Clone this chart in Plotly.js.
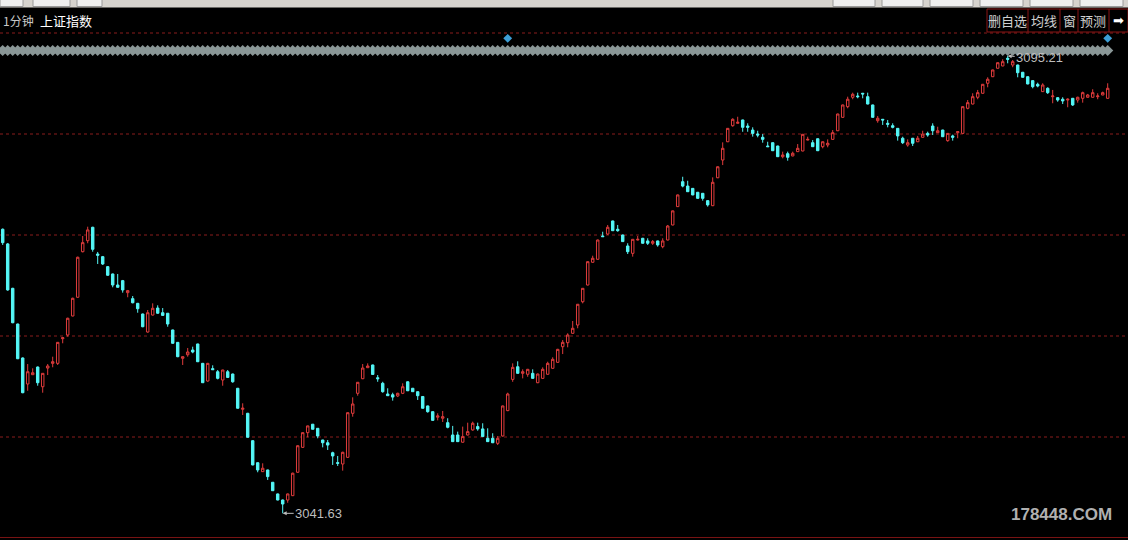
<!DOCTYPE html>
<html>
<head>
<meta charset="utf-8">
<script src="https://cdn.plot.ly/plotly-3.0.1.min.js"></script>
<style>html,body{margin:0;padding:0;background:#000;}#chart{width:1128px;height:540px;}</style>
</head>
<body>
<div id="chart"></div>
<script>
// 1-minute candles, 上证指数
const opens = [3074.91,3073.19,3067.99,3063.81,3059.83,3056.78,3057.87,3058.77,3056.46,3058.65,
3059.20,3059.20,3062.09,3062.52,3064.75,3066.94,3072.28,3073.57,3075.14,3072.01,
3071.70,3070.53,3069.67,3068.38,3068.89,3067.48,3066.78,3066.23,3064.98,3062.87,
3064.86,3065.68,3065.13,3065.07,3063.11,3061.66,3059.79,3060.21,3060.76,3061.47,
3059.20,3057.13,3058.58,3058.22,3057.25,3058.22,3057.95,3056.28,3053.82,3053.35,
3050.14,3047.56,3046.51,3046.71,3045.27,3043.90,3043.19,3043.19,3043.70,3046.44,
3049.36,3051.08,3052.07,3051.59,3050.22,3049.90,3048.73,3047.57,3047.41,3048.19,
3053.35,3055.69,3057.40,3058.69,3059.01,3057.51,3056.86,3055.61,3055.52,3055.38,
3055.69,3057.04,3056.28,3055.88,3055.32,3054.21,3053.54,3052.89,3052.77,3052.25,
3050.81,3050.81,3049.96,3050.81,3051.40,3051.79,3051.52,3050.42,3050.42,3049.83,
3050.69,3053.66,3057.32,3058.80,3058.03,3057.92,3058.03,3056.93,3057.44,3057.92,
3058.62,3059.32,3061.15,3061.62,3062.72,3063.69,3066.42,3068.38,3071.04,3071.39,
3074.12,3074.35,3075.88,3074.91,3074.24,3072.95,3072.09,3073.65,3073.85,3073.54,
3073.27,3073.54,3072.87,3073.65,3075.41,3077.56,3080.48,3079.97,3079.70,3079.24,
3079.12,3078.26,3077.67,3080.94,3083.02,3085.16,3087.04,3087.32,3087.71,3087.00,
3086.53,3086.06,3085.68,3084.66,3085.05,3084.66,3083.41,3083.76,3083.50,3084.00,
3084.08,3085.36,3085.05,3085.51,3084.58,3084.78,3085.44,3086.45,3088.02,3089.27,
3090.37,3090.52,3090.84,3090.44,3089.47,3087.63,3087.79,3087.32,3087.04,3086.73,
3085.57,3084.78,3085.57,3085.16,3085.68,3086.14,3087.00,3086.22,3086.53,3085.29,
3085.84,3086.22,3086.14,3089.08,3089.58,3090.37,3090.84,3092.01,3092.78,3093.77,
3094.04,3094.94,3094.15,3094.15,3093.30,3092.78,3092.32,3091.89,3091.03,3091.42,
3090.44,3090.32,3090.14,3090.05,3090.25,3090.05,3090.25,3090.37,3090.37,3090.44,
3090.64,3090.25];
const highs = [3075.00,3073.30,3068.05,3063.85,3059.90,3059.12,3058.62,3058.83,3058.07,3059.12,
3059.98,3061.70,3062.20,3064.55,3066.90,3071.70,3074.12,3075.21,3075.20,3072.25,
3071.78,3070.60,3069.72,3069.67,3068.97,3067.80,3067.09,3066.28,3065.03,3065.45,
3066.23,3066.00,3065.68,3065.10,3063.15,3061.70,3060.00,3061.00,3061.15,3061.50,
3059.25,3059.25,3058.97,3058.42,3058.45,3058.42,3058.00,3056.32,3054.52,3053.40,
3050.20,3047.60,3047.49,3046.75,3045.30,3043.95,3043.25,3043.95,3046.40,3049.60,
3051.10,3051.90,3052.10,3051.62,3050.25,3050.22,3048.85,3048.35,3048.85,3053.45,
3055.22,3057.00,3059.12,3059.20,3059.05,3057.83,3057.04,3056.28,3055.76,3055.76,
3056.86,3057.10,3056.32,3055.92,3055.36,3054.25,3053.58,3053.35,3053.62,3052.77,
3051.87,3051.20,3051.79,3052.25,3052.37,3052.25,3052.18,3051.59,3051.01,3050.69,
3054.25,3055.76,3059.20,3059.44,3058.50,3058.55,3058.50,3058.00,3058.73,3059.39,
3059.91,3060.90,3061.93,3062.72,3064.16,3066.15,3068.02,3071.15,3071.81,3073.70,
3074.62,3075.41,3075.92,3075.41,3074.28,3073.27,3073.77,3074.12,3073.90,3073.85,
3073.65,3073.58,3073.85,3075.41,3077.10,3078.97,3081.06,3080.59,3079.74,3079.28,
3079.16,3078.30,3080.99,3082.27,3085.09,3086.77,3087.91,3088.09,3087.75,3087.32,
3086.85,3086.45,3086.06,3085.16,3085.09,3084.70,3084.00,3084.00,3084.00,3084.89,
3086.07,3085.75,3085.36,3085.55,3085.20,3085.44,3086.53,3088.45,3089.51,3090.44,
3090.91,3090.91,3090.88,3090.91,3089.51,3088.18,3087.83,3087.71,3087.32,3086.77,
3085.75,3085.44,3085.61,3085.84,3086.45,3086.34,3087.32,3086.92,3086.57,3086.18,
3085.99,3086.38,3089.31,3090.05,3090.84,3091.23,3091.93,3092.71,3093.61,3094.46,
3094.82,3095.21,3094.74,3094.19,3093.34,3092.82,3092.36,3092.08,3092.01,3091.54,
3091.23,3090.40,3090.37,3090.25,3090.29,3090.44,3091.03,3090.76,3091.31,3090.84,
3091.03,3092.01];
const lows = [3073.07,3067.70,3063.90,3059.70,3055.70,3055.99,3057.83,3056.58,3055.76,3057.83,
3058.74,3059.01,3061.55,3062.32,3064.70,3066.90,3072.20,3073.27,3072.28,3070.84,
3070.72,3069.45,3068.11,3068.05,3067.48,3066.94,3066.23,3065.13,3063.43,3062.80,
3064.80,3065.00,3064.75,3063.49,3061.50,3059.92,3059.01,3059.98,3060.38,3059.35,
3056.90,3057.05,3058.46,3057.32,3056.58,3057.48,3056.93,3053.90,3053.15,3050.50,
3047.25,3046.44,3046.47,3045.54,3044.25,3043.15,3041.63,3042.87,3043.65,3046.40,
3049.30,3050.54,3051.45,3050.42,3049.36,3049.05,3047.30,3047.18,3046.63,3048.15,
3052.95,3055.41,3057.35,3058.65,3057.85,3057.04,3055.76,3055.38,3054.83,3055.25,
3055.60,3055.95,3055.85,3054.91,3053.90,3053.42,3052.48,3052.52,3052.33,3051.59,
3049.98,3049.98,3049.92,3050.75,3051.31,3051.31,3050.58,3049.98,3049.86,3049.63,
3050.62,3053.60,3057.04,3057.98,3057.44,3057.63,3057.40,3056.88,3057.40,3057.88,
3058.58,3059.28,3060.29,3061.08,3062.68,3063.31,3066.23,3068.33,3071.00,3071.35,
3074.04,3074.24,3074.70,3074.62,3073.42,3072.01,3071.70,3073.60,3073.22,3073.07,
3073.07,3072.87,3072.68,3073.60,3075.37,3077.52,3079.82,3079.27,3078.89,3078.49,
3078.26,3077.56,3077.62,3080.90,3082.43,3085.12,3086.92,3087.28,3086.33,3086.33,
3085.76,3085.68,3085.05,3084.54,3084.07,3083.37,3083.22,3082.94,3083.45,3083.96,
3084.04,3085.32,3084.54,3084.07,3084.39,3084.51,3085.40,3086.41,3087.98,3089.08,
3090.14,3090.25,3090.25,3089.54,3087.98,3087.39,3087.13,3086.85,3086.73,3085.29,
3084.89,3084.58,3084.66,3085.12,3085.64,3085.75,3085.95,3086.18,3085.71,3085.16,
3085.29,3085.57,3086.10,3088.96,3089.54,3090.14,3090.80,3091.54,3092.74,3093.73,
3094.00,3094.35,3093.89,3092.71,3092.67,3091.89,3091.42,3091.54,3090.99,3090.76,
3089.67,3089.85,3089.58,3089.20,3089.35,3089.74,3089.74,3090.32,3090.33,3090.14,
3090.60,3090.21];
const closes = [3073.34,3067.80,3063.96,3059.74,3055.76,3058.22,3058.10,3056.93,3058.03,3058.89,
3059.39,3061.66,3062.20,3064.48,3066.82,3071.63,3073.34,3074.83,3072.56,3071.86,
3070.84,3069.52,3068.38,3068.11,3067.80,3067.72,3066.30,3065.60,3063.49,3065.13,
3065.65,3065.07,3064.82,3063.81,3061.55,3059.98,3059.98,3060.53,3060.53,3059.39,
3056.93,3059.20,3058.46,3057.44,3058.42,3057.55,3057.04,3053.94,3053.94,3050.54,
3047.30,3046.71,3046.91,3045.93,3044.28,3043.19,3042.72,3043.90,3046.33,3049.55,
3051.08,3051.87,3051.48,3050.69,3049.90,3049.63,3048.35,3047.49,3048.78,3053.42,
3054.44,3056.98,3058.65,3058.89,3057.90,3057.40,3055.88,3055.41,3055.25,3055.69,
3056.46,3055.99,3055.88,3055.41,3053.94,3053.54,3052.52,3053.04,3052.95,3051.71,
3050.03,3050.03,3050.62,3051.20,3052.18,3051.52,3050.62,3050.03,3049.90,3050.42,
3054.21,3055.61,3058.73,3058.03,3058.22,3058.50,3057.44,3057.95,3058.50,3059.20,
3059.67,3060.84,3061.66,3062.52,3063.31,3066.12,3067.99,3071.11,3071.51,3073.65,
3074.04,3075.14,3074.74,3074.74,3073.46,3072.28,3073.73,3073.73,3073.27,3073.27,
3073.46,3073.07,3073.54,3075.29,3077.06,3078.93,3079.97,3079.31,3078.93,3078.53,
3078.53,3077.76,3080.41,3082.23,3084.39,3086.73,3087.79,3087.44,3086.85,3086.85,
3086.14,3085.95,3085.44,3084.58,3084.11,3083.41,3083.61,3083.34,3083.81,3084.39,
3086.03,3085.44,3084.58,3084.11,3085.16,3084.98,3086.22,3088.41,3089.47,3090.14,
3090.72,3090.44,3090.76,3089.58,3088.02,3087.91,3087.71,3087.21,3086.85,3085.84,
3085.05,3085.05,3084.98,3085.57,3086.06,3085.95,3086.45,3086.45,3085.75,3086.14,
3085.68,3086.34,3089.27,3089.74,3090.44,3090.91,3091.89,3092.48,3093.57,3094.42,
3094.54,3094.82,3094.54,3093.25,3092.71,3091.93,3091.61,3091.69,3091.81,3090.91,
3090.52,3090.05,3089.94,3090.14,3089.47,3090.37,3090.91,3090.64,3090.91,3090.52,
3090.91,3091.42];
const lowLabel = '3041.63';
const highLabel = '3095.21';
const infoMarks = [101, 221];          // candles carrying the blue info diamond
const headerLeft = ['1分钟', '上证指数'];
const buttons = ['删自选', '均线', '窗', '预测', '➡'];
const watermark = '178448.COM';

// ---- geometry helpers (layout only) ----
const W = 1128, H = 540, T = 33, B = 2, PH = H - T - B;
const py = p => (H - B - p) / PH;
const px = p => p / W;
const Y_TOP = 3097.90, Y_BOT = 3038.74;
const pxToPrice = p => Y_TOP - (p - T) * (Y_TOP - Y_BOT) / PH;

const RED = '#e03c3c', CYAN = '#54f6f6', GRID = '#8a1d1d';
const idx = opens.map((_, i) => i);
const iLow = lows.indexOf(Math.min(...lows));
const iHigh = highs.indexOf(Math.max(...highs));

const traces = [
  {
    type: 'candlestick', x: idx, open: opens, high: highs, low: lows, close: closes,
    increasing: {line: {color: RED, width: 1}, fillcolor: '#000000'},
    decreasing: {line: {color: CYAN, width: 1}, fillcolor: CYAN},
    whiskerwidth: 0, hoverinfo: 'skip', showlegend: false
  },
  {
    type: 'scatter', mode: 'markers', x: idx, y: idx.map(() => pxToPrice(50.5)),
    marker: {symbol: 'diamond', size: 8.6, color: '#8a9797', line: {width: 0}},
    hoverinfo: 'skip', showlegend: false, cliponaxis: false
  },
  {
    type: 'scatter', mode: 'markers', x: infoMarks, y: infoMarks.map(() => pxToPrice(38.3)),
    marker: {symbol: 'diamond', size: 6.8, color: '#3d9fd6', line: {width: 0}},
    hoverinfo: 'skip', showlegend: false, cliponaxis: false
  }
];

const shapes = [];
[0.2, 0.4, 0.6, 0.8, 1.0].forEach(f => shapes.push({
  type: 'line', xref: 'paper', yref: 'paper', x0: 0, x1: 1, y0: f, y1: f,
  line: {color: GRID, width: 1, dash: 'dot'}, layer: 'below'
}));
shapes.push({type: 'line', xref: 'paper', yref: 'paper', x0: 0, x1: 1, y0: 0.001, y1: 0.001,
  line: {color: '#7a1414', width: 1}, layer: 'below'});
// top toolbar strip
shapes.push({type: 'rect', xref: 'paper', yref: 'paper', x0: 0, x1: 1, y0: py(7.5), y1: py(-2),
  fillcolor: '#d6d3ce', line: {width: 0}});
[[0,23],[33,70],[77,102],[833,875],[882,923],[930,973],[980,1023],[1030,1073],[1080,1123]].forEach(b => shapes.push({
  type: 'rect', xref: 'paper', yref: 'paper', x0: px(b[0]), x1: px(b[1]), y0: py(6.5), y1: py(-2),
  fillcolor: '#efefef', line: {color: '#9a9a9a', width: 1}
}));
// button box
shapes.push({type: 'rect', xref: 'paper', yref: 'paper', x0: px(987), x1: px(1128), y0: py(32), y1: py(9),
  fillcolor: '#000000', line: {color: '#8b1515', width: 1}});
[1028, 1060, 1078, 1109].forEach(s => shapes.push({
  type: 'line', xref: 'paper', yref: 'paper', x0: px(s), x1: px(s), y0: py(32), y1: py(9),
  line: {color: '#8b1515', width: 1}
}));

const cjk = '"Noto Sans CJK SC", "Noto Sans", sans-serif';
const annotations = [
  {xref: 'paper', yref: 'paper', x: px(1), y: py(20.5), xanchor: 'left', yanchor: 'middle',
   text: headerLeft[0], showarrow: false, font: {family: cjk, size: 12, color: '#c8c8c8'}},
  {xref: 'paper', yref: 'paper', x: px(38), y: py(20.5), xanchor: 'left', yanchor: 'middle',
   text: headerLeft[1], showarrow: false, font: {family: cjk, size: 13, color: '#ffffff'}},
  {x: iLow, y: lows[iLow], xref: 'x', yref: 'y', text: lowLabel, showarrow: true,
   ax: 36, ay: 0, arrowhead: 2, arrowsize: 0.8, arrowwidth: 1, arrowcolor: '#bdbdbd', standoff: 0,
   font: {family: 'Liberation Sans, Arial, sans-serif', size: 13, color: '#bdbdbd'}},
  {x: iHigh, y: highs[iHigh], xref: 'x', yref: 'y', text: highLabel, showarrow: true,
   ax: 32, ay: 2, arrowhead: 2, arrowsize: 0.8, arrowwidth: 1, arrowcolor: '#bdbdbd', standoff: 0,
   font: {family: 'Liberation Sans, Arial, sans-serif', size: 13, color: '#bdbdbd'}},
  {xref: 'paper', yref: 'paper', x: px(1061), y: py(514), xanchor: 'center', yanchor: 'middle',
   text: '<b>' + watermark + '</b>', showarrow: false,
   font: {family: 'Liberation Sans, Arial, sans-serif', size: 17, color: '#b0b0b0'}}
];
const btnX = [1007, 1044, 1069, 1093, 1118];
buttons.forEach((t, i) => annotations.push({
  xref: 'paper', yref: 'paper', x: px(btnX[i]), y: py(20.5), xanchor: 'center', yanchor: 'middle',
  text: t, showarrow: false,
  font: {family: i === 4 ? 'DejaVu Sans, sans-serif' : cjk, size: 13, color: i === 4 ? '#ffffff' : '#d0d0d0'}
}));

const layout = {
  width: W, height: H,
  margin: {l: 0, r: 0, t: T, b: B, pad: 0},
  paper_bgcolor: '#000000', plot_bgcolor: '#000000',
  showlegend: false, hovermode: false,
  xaxis: {range: [-0.54, 225.06], visible: false, showgrid: false, zeroline: false,
          rangeslider: {visible: false}, fixedrange: true},
  yaxis: {range: [Y_BOT, Y_TOP], visible: false, showgrid: false, zeroline: false, fixedrange: true},
  shapes: shapes,
  annotations: annotations
};

Plotly.newPlot('chart', traces, layout, {staticPlot: true, displayModeBar: false});
</script>
</body>
</html>
